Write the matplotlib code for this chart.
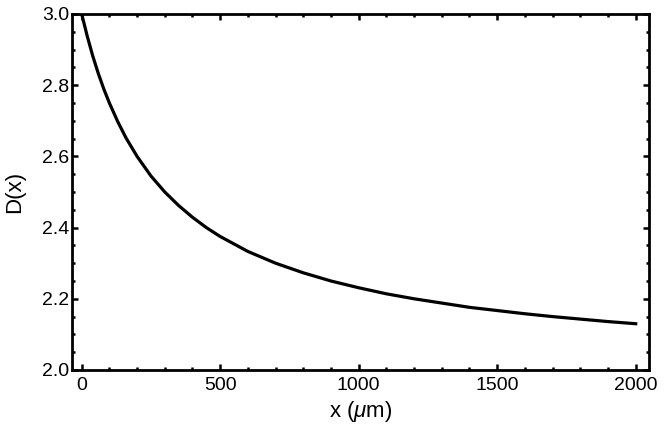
import matplotlib
matplotlib.use('Agg')
import matplotlib.pyplot as plt
from matplotlib.ticker import MultipleLocator

# Values
x_um = [0, 20, 40, 60, 80, 100, 130, 160, 200, 250, 300, 350, 400, 450, 500,
        600, 700, 800, 900, 1000, 1100, 1200, 1300, 1400, 1500, 1600, 1700,
        1800, 1900, 2000]
d_x = [3.000, 2.938, 2.882, 2.833, 2.789, 2.750, 2.698, 2.652, 2.600, 2.545,
       2.500, 2.462, 2.429, 2.400, 2.375, 2.333, 2.300, 2.273, 2.250, 2.231,
       2.214, 2.200, 2.188, 2.176, 2.167, 2.158, 2.150, 2.143, 2.136, 2.130]


def main():
    plt.rcParams['font.family'] = ['Liberation Sans', 'DejaVu Sans']
    plt.rcParams['mathtext.fontset'] = 'custom'
    plt.rcParams['mathtext.rm'] = 'Liberation Sans'
    plt.rcParams['mathtext.it'] = 'Liberation Sans:italic'

    fig = plt.figure(figsize=(6.64, 4.33), dpi=100)
    ax = fig.add_axes([0.1084, 0.1455, 0.869, 0.8222])

    ax.plot(x_um, d_x, color='black', linewidth=2.3)

    ax.set_xlim(-35, 2048)
    ax.set_ylim(2.0, 3.0)
    ax.xaxis.set_major_locator(MultipleLocator(500))
    ax.xaxis.set_minor_locator(MultipleLocator(100))
    ax.yaxis.set_major_locator(MultipleLocator(0.2))
    ax.yaxis.set_minor_locator(MultipleLocator(0.05))
    ax.yaxis.set_major_formatter(plt.FormatStrFormatter('%.1f'))

    for s in ax.spines.values():
        s.set_linewidth(2)
    ax.tick_params(which='both', direction='in', top=True, right=True,
                   labelsize=14, width=1.8, color='black')
    ax.tick_params(axis='x', pad=5)
    ax.tick_params(axis='y', pad=2)
    ax.tick_params(which='major', length=4)
    ax.tick_params(which='minor', length=2.5)

    ax.set_xlabel('x ($\\mu$m)', fontsize=16, labelpad=4)
    ax.set_ylabel('D(x)', fontsize=16, labelpad=12)

    fig.savefig('out.png', dpi=100)


if __name__ == '__main__':
    main()
